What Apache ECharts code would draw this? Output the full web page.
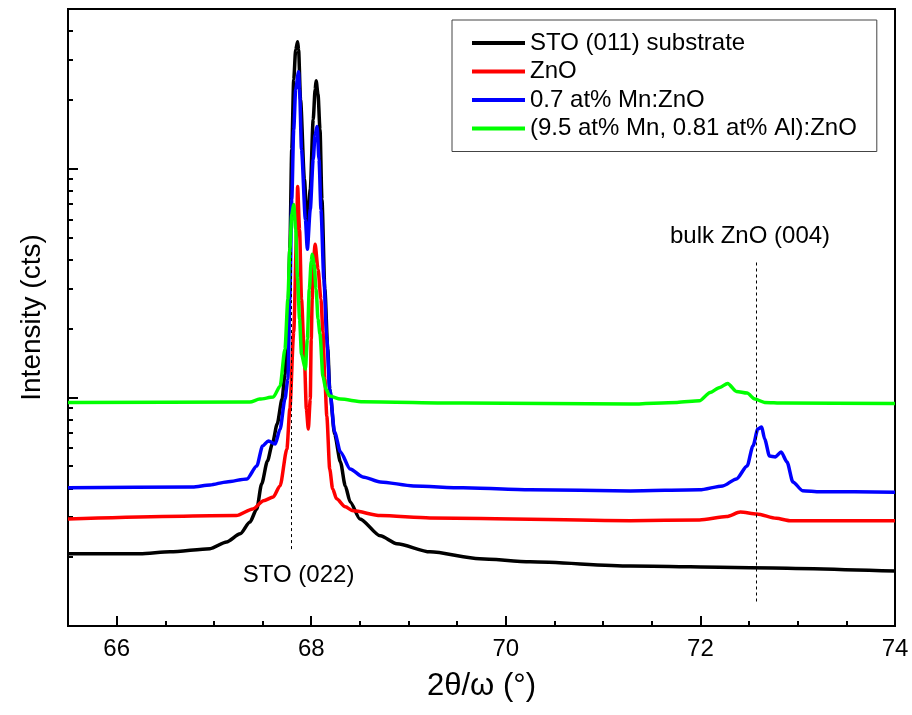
<!DOCTYPE html>
<html><head><meta charset="utf-8">
<script src="https://cdn.jsdelivr.net/npm/echarts@6/dist/echarts.min.js"></script>
<style>html,body{margin:0;padding:0;background:#fff}#c{width:912px;height:715px}</style>
</head><body><div id="c"></div>
<script>
const seriesNames = ['STO (011) substrate', 'ZnO', '0.7 at% Mn:ZnO', '(9.5 at% Mn, 0.81 at% Al):ZnO'];
const seriesColors = ['#000000', '#ff0000', '#0000ff', '#00ff00'];

// [2theta (deg), intensity (cts)]
const stoSubstrate = [[65.5,207],[66.24,207],[66.55,211],[66.96,218],[67.13,233],[67.27,253],[67.37,285],[67.44,325],[67.49,418],[67.55,527],[67.60,626],[67.65,765],[67.70,983],[67.73,1264],[67.76,2198],[67.78,4442],[67.80,12140],[67.82,24550],[67.84,33190],[67.86,35960],[67.87,33190],[67.89,20070],[67.93,8980],[67.96,5430],[67.99,8120],[68.02,16420],[68.04,22200],[68.05,24300],[68.07,21110],[68.09,14850],[68.11,7340],[68.14,2971],[68.17,1625],[68.19,1087],[68.24,691],[68.30,522],[68.35,410],[68.40,349],[68.50,294],[68.71,248],[68.88,229],[69.22,211],[69.73,197],[70.25,191],[71.28,183],[72.51,180],[74.0,174]];
const znO = [[65.5,294],[67.23,304],[67.40,325],[67.51,353],[67.61,367],[67.68,411],[67.75,595],[67.78,889],[67.82,1929],[67.85,5270],[67.86,8370],[67.88,5430],[67.90,2688],[67.93,1470],[67.95,889],[67.97,727],[67.99,983],[68.00,1797],[68.01,2688],[68.02,3820],[68.04,4671],[68.07,3634],[68.10,2688],[68.12,1929],[68.14,1202],[68.16,829],[68.19,486],[68.22,398],[68.26,360],[68.35,332],[68.43,319],[68.71,304],[69.22,297],[71.28,289],[71.99,291],[72.27,301],[72.41,315],[72.58,309],[72.78,296],[72.92,289],[74.0,289]];
const mnZnO = [[65.5,402],[66.78,406],[66.96,414],[67.13,427],[67.34,440],[67.44,501],[67.50,613],[67.56,645],[67.63,626],[67.68,727],[67.73,983],[67.76,1202],[67.78,2688],[67.80,7340],[67.82,14850],[67.84,22200],[67.87,26600],[67.88,22200],[67.90,12140],[67.94,6005],[67.96,4442],[67.99,6642],[68.02,10980],[68.04,14120],[68.06,15300],[68.08,10980],[68.10,6642],[68.13,3286],[68.16,1797],[68.19,1087],[68.24,706],[68.30,577],[68.40,486],[68.53,449],[68.71,427],[69.05,410],[69.56,402],[70.25,394],[71.28,390],[71.99,394],[72.23,410],[72.37,440],[72.48,501],[72.54,613],[72.59,727],[72.63,742],[72.66,658],[72.71,554],[72.77,549],[72.83,577],[72.89,522],[72.95,427],[73.05,391],[73.23,387],[74.0,385]];
const mnAlZnO = [[65.5,951],[67.37,954],[67.47,983],[67.61,1003],[67.68,1120],[67.73,1625],[67.76,2688],[67.78,4442],[67.80,6316],[67.82,6985],[67.84,5430],[67.86,3286],[67.88,2198],[67.90,1546],[67.94,1329],[67.96,1797],[67.98,2971],[68.00,3938],[68.01,4225],[68.03,3820],[68.05,2971],[68.07,2198],[68.09,1890],[68.12,1239],[68.15,1087],[68.19,1013],[68.30,983],[68.53,957],[69.56,944],[71.28,935],[71.76,951],[71.99,966],[72.10,1051],[72.20,1106],[72.28,1151],[72.37,1062],[72.48,1044],[72.56,983],[72.66,951],[72.85,944],[74.0,941]];

const xMajorTicks = [66, 68, 70, 72, 74];
const xMinorTicks = [66.5, 67, 67.5, 68.5, 69, 69.5, 70.5, 71, 71.5, 72.5, 73, 73.5];
const yMajorTicks = [100, 1000, 10000];
const yMinorTicks = [200, 300, 400, 500, 600, 700, 800, 900, 2000, 3000, 4000, 5000, 6000, 7000, 8000, 9000, 20000, 30000, 40000];

// reference lines: [2theta, intensity from, intensity to]
const refLines = [[67.79, 217, 4910], [72.57, 128, 3950]];
// annotations: [text, 2theta, intensity]
const annotations = [['STO (022)', 67.87, 166], ['bulk ZnO (004)', 72.51, 5060]];

const FONT = 'Liberation Sans, Arial, sans-serif';
const allData = [stoSubstrate, znO, mnZnO, mnAlZnO];
const zOrder = [2, 4, 3, 5];

const series = allData.map((d, i) => ({
  name: seriesNames[i],
  type: 'line',
  data: d,
  showSymbol: false,
  symbol: 'none',
  smooth: 0.25,
  smoothMonotone: 'x',
  z: zOrder[i],
  color: seriesColors[i],
  lineStyle: { color: seriesColors[i], width: 3.5 },
  emphasis: { disabled: true }
}));

series.push({
  name: 'annot',
  type: 'line',
  data: [],
  z: 6,
  markLine: {
    silent: true,
    symbol: ['none', 'none'],
    label: { show: false },
    lineStyle: { color: '#000', type: [3, 3], width: 1 },
    data: refLines.map(r => [{ coord: [r[0], r[1]] }, { coord: [r[0], r[2]] }])
  },
  markPoint: {
    silent: true,
    symbol: 'circle',
    symbolSize: 1,
    itemStyle: { color: 'rgba(0,0,0,0)' },
    label: { show: true, position: 'inside', color: '#000', fontSize: 24, fontFamily: FONT, formatter: p => p.name },
    data: annotations.map(a => ({ name: a[0], coord: [a[1], a[2]] }))
  }
});

const axisLineStyle = { color: '#000', width: 2 };

const option = {
  animation: false,
  backgroundColor: '#fff',
  grid: { left: 68, right: 17, top: 9, bottom: 89, show: true, borderColor: '#000', borderWidth: 2, backgroundColor: 'transparent' },
  legend: {
    data: seriesNames,
    orient: 'vertical',
    left: 452,
    top: 20,
    padding: [11, 20, 11, 20],
    itemGap: 4.5,
    itemWidth: 53,
    itemHeight: 4,
    icon: 'rect',
    borderColor: '#444',
    borderWidth: 1,
    backgroundColor: '#fff',
    textStyle: { fontSize: 24, fontFamily: FONT, color: '#000', lineHeight: 24, padding: [0, 0, 0, 0] }
  },
  xAxis: [
    {
      type: 'value', min: 65.5, max: 74,
      axisLine: { show: true, lineStyle: axisLineStyle },
      axisTick: { show: true, inside: true, length: 10, lineStyle: axisLineStyle, customValues: xMajorTicks },
      axisLabel: { show: true, customValues: xMajorTicks, fontSize: 24, fontFamily: FONT, color: '#000', margin: 11 },
      splitLine: { show: false },
      name: '2θ/ω (°)', nameLocation: 'middle', nameGap: 45,
      nameTextStyle: { fontSize: 31, fontFamily: FONT, color: '#000' }
    },
    {
      type: 'value', min: 65.5, max: 74, position: 'bottom',
      axisLine: { show: false },
      axisTick: { show: true, inside: true, length: 5, lineStyle: axisLineStyle, customValues: xMinorTicks },
      axisLabel: { show: false },
      splitLine: { show: false }
    }
  ],
  yAxis: [
    {
      type: 'log', logBase: 10, min: 100, max: 50000,
      axisLine: { show: true, lineStyle: axisLineStyle },
      axisTick: { show: true, inside: true, length: 10, lineStyle: axisLineStyle, customValues: yMajorTicks },
      axisLabel: { show: false },
      splitLine: { show: false },
      name: 'Intensity (cts)', nameLocation: 'middle', nameGap: 22,
      nameTextStyle: { fontSize: 28, fontFamily: FONT, color: '#000' }
    },
    {
      type: 'log', logBase: 10, min: 100, max: 50000, position: 'left',
      axisLine: { show: false },
      axisTick: { show: true, inside: true, length: 5, lineStyle: axisLineStyle, customValues: yMinorTicks },
      axisLabel: { show: false },
      splitLine: { show: false }
    }
  ],
  series: series
};

const chart = echarts.init(document.getElementById('c'), null, { renderer: 'canvas' });
chart.setOption(option);
</script>
</body></html>
